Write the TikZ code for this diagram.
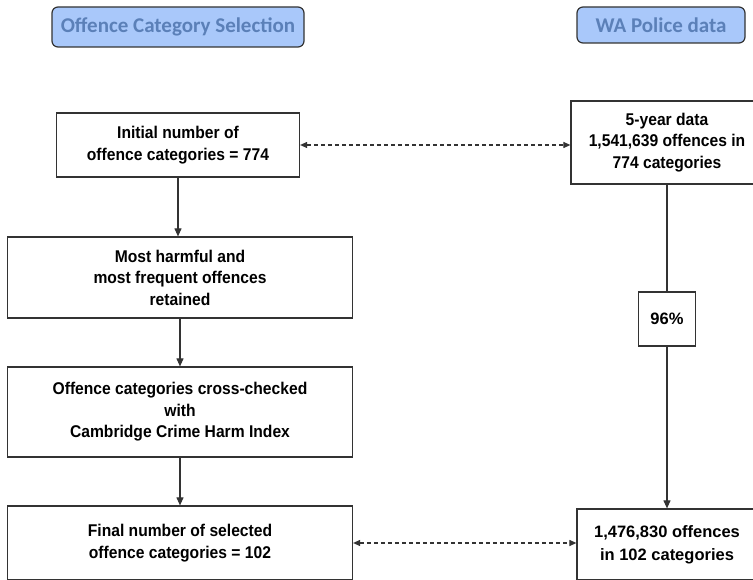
\documentclass[tikz,border=0pt]{standalone}
\usepackage{fontspec}
\setmainfont{Liberation Sans}[FakeStretch=0.92]
\newfontfamily\headfont{Carlito}
\newfontfamily\widefont{Liberation Sans}
\usetikzlibrary{arrows.meta, positioning}
\definecolor{hdrfill}{HTML}{A9C8FA}
\definecolor{hdrtext}{HTML}{5B80B8}
\definecolor{edgegray}{HTML}{333333}
\tikzset{
  box/.style={draw=edgegray, line width=1.2pt, align=center, inner sep=0pt,
              font=\fontsize{17}{21.5}\selectfont\bfseries},
  widebox/.style={box, font=\widefont\fontsize{16.5}{23}\selectfont\bfseries},
  header/.style={draw=edgegray, fill=hdrfill, text=hdrtext, rounded corners=6pt,
                 line width=1.2pt, inner sep=0pt,
                 font=\headfont\fontsize{21}{22}\selectfont\bfseries},
  flow/.style={-{Triangle[length=8pt,width=7pt]}, line width=1.1pt, draw=edgegray},
  link/.style={{Triangle[length=7pt,width=6pt]}-{Triangle[length=7pt,width=6pt]},
               dash pattern=on 4pt off 3pt, line width=1.1pt, draw=edgegray},
}

\begin{document}
\begin{tikzpicture}[x=1pt, y=-1pt]
     \useasboundingbox (0,0) rectangle (753,580);
     \node[header, minimum width=252pt, minimum height=40pt] (hsel) at (178,27)    {Offence Category Selection};
     \node[header, minimum width=168pt, minimum height=36pt] (hwa)  at (661,25)    {WA Police data};
     \node[box, minimum width=243pt, minimum height=64pt]  (init)  at (178,145)    {Initial number of\\offence categories = 774};
     \node[box, minimum width=345pt, minimum height=81pt]  (harm)  at (180,277.5)  {Most harmful and\\most frequent offences\\retained};
     \node[box, minimum width=345pt, minimum height=90pt]  (cross) at (180,412)    {Offence categories cross-checked\\with\\Cambridge Crime Harm Index};
     \node[box, minimum width=345pt, minimum height=74pt]  (final) at (180,543)    {Final number of selected\\offence categories = 102};
     \node[box, minimum width=192pt, minimum height=83pt]  (five)  at (667,142.5)  {5-year data\\1,541,639 offences in\\774 categories};
     \node[widebox, minimum width=57pt,  minimum height=54pt]  (pct)   at (667,319)    {96\%};
     \node[widebox, minimum width=180pt, minimum height=71pt]  (fin2)  at (667,544.5)  {1,476,830 offences\\in 102 categories};
    \path
       (init.south)  edge[flow] (init.south |- harm.north)
       (harm.south)  edge[flow] (cross.north)
       (cross.south) edge[flow] (final.north)
       (five.south)  edge[line width=1.1pt, draw=edgegray] (pct.north)
       (pct.south)   edge[flow] (fin2.north)
       (init.east)   edge[link] (init.east -| five.west)
       (final.east)  edge[link] (final.east -| fin2.west);
  \end{tikzpicture}
\end{document}
